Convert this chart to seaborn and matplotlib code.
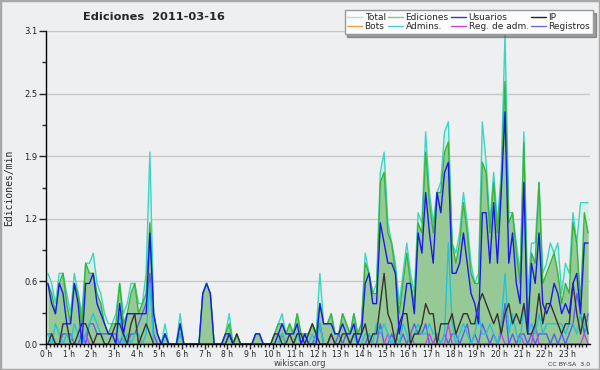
import numpy as np
import pandas as pd
import seaborn as sns
from matplotlib import pyplot as plt
from matplotlib.lines import Line2D
from matplotlib.patches import Rectangle

# ediciones por minuto, tramos de 10 min (6 valores por hora)
ediciones = [0.6, 0.5, 0.3, 0.6, 0.7, 0.4,  0.2, 0.6, 0.5, 0.2, 0.8, 0.7,
             0.7, 0.5, 0.4, 0.2, 0.1, 0.2,  0.2, 0.6, 0.2, 0.3, 0.5, 0.6,
             0.3, 0.4, 0.5, 1.2, 0.3, 0.1,  0.0, 0.1, 0.0, 0.0, 0.0, 0.2,
             0.0, 0.0, 0.0, 0.0, 0.0, 0.5,  0.6, 0.5, 0.0, 0.0, 0.0, 0.1,
             0.2, 0.0, 0.1, 0.0, 0.0, 0.0,  0.0, 0.1, 0.1, 0.0, 0.0, 0.0,
             0.1, 0.2, 0.2, 0.1, 0.2, 0.1,  0.3, 0.1, 0.1, 0.1, 0.2, 0.1,
             0.4, 0.2, 0.2, 0.3, 0.1, 0.1,  0.3, 0.2, 0.1, 0.3, 0.1, 0.2,
             0.8, 0.7, 0.5, 0.5, 1.6, 1.7,  1.1, 1.0, 0.7, 0.3, 0.6, 0.9,
             0.6, 0.4, 1.2, 1.1, 1.9, 1.4,  1.1, 1.5, 1.5, 1.9, 2.0, 1.0,
             0.8, 1.0, 1.4, 1.1, 0.7, 0.6,  0.6, 1.8, 1.7, 1.1, 1.6, 1.1,
             1.6, 2.6, 1.2, 1.3, 0.9, 0.6,  2.0, 0.2, 0.9, 0.8, 1.6, 0.6,
             0.7, 0.8, 0.9, 0.7, 0.4, 0.6,  0.5, 1.2, 1.0, 0.4, 1.3, 1.1]
total = [0.7, 0.6, 0.4, 0.7, 0.7, 0.5,  0.3, 0.7, 0.5, 0.3, 0.8, 0.8,
         0.9, 0.6, 0.5, 0.3, 0.2, 0.2,  0.3, 0.6, 0.3, 0.4, 0.6, 0.6,
         0.4, 0.4, 0.7, 1.9, 0.3, 0.1,  0.0, 0.2, 0.0, 0.0, 0.0, 0.3,
         0.0, 0.0, 0.0, 0.0, 0.0, 0.5,  0.6, 0.5, 0.0, 0.0, 0.0, 0.1,
         0.3, 0.0, 0.1, 0.0, 0.0, 0.0,  0.0, 0.1, 0.1, 0.0, 0.0, 0.0,
         0.1, 0.2, 0.3, 0.1, 0.2, 0.1,  0.3, 0.1, 0.1, 0.1, 0.2, 0.1,
         0.7, 0.2, 0.2, 0.3, 0.1, 0.1,  0.3, 0.2, 0.1, 0.3, 0.1, 0.2,
         0.9, 0.7, 0.5, 0.6, 1.7, 1.9,  1.2, 1.0, 0.8, 0.4, 0.7, 1.0,
         0.7, 0.5, 1.3, 1.2, 2.1, 1.5,  1.2, 1.5, 1.6, 2.1, 2.2, 1.0,
         0.9, 1.1, 1.5, 1.2, 0.8, 0.6,  0.7, 2.2, 1.8, 1.2, 1.7, 1.2,
         1.7, 3.07, 1.3, 1.3, 1.0, 0.7, 2.1, 0.5, 1.0, 1.0, 1.6, 0.7,
         0.8, 1.0, 0.9, 1.0, 0.5, 0.8,  0.7, 1.3, 1.0, 1.4, 1.4, 1.4]
usuarios = [0.6, 0.4, 0.3, 0.6, 0.5, 0.2,  0.2, 0.6, 0.4, 0.0, 0.6, 0.6,
            0.7, 0.4, 0.3, 0.2, 0.1, 0.1,  0.0, 0.4, 0.1, 0.3, 0.3, 0.3,
            0.3, 0.3, 0.3, 1.1, 0.3, 0.1,  0.0, 0.1, 0.0, 0.0, 0.0, 0.2,
            0.0, 0.0, 0.0, 0.0, 0.0, 0.5,  0.6, 0.5, 0.0, 0.0, 0.0, 0.1,
            0.1, 0.0, 0.0, 0.0, 0.0, 0.0,  0.0, 0.1, 0.1, 0.0, 0.0, 0.0,
            0.0, 0.1, 0.2, 0.1, 0.1, 0.1,  0.2, 0.0, 0.1, 0.0, 0.0, 0.0,
            0.4, 0.2, 0.2, 0.2, 0.1, 0.1,  0.2, 0.1, 0.1, 0.2, 0.0, 0.1,
            0.6, 0.7, 0.4, 0.4, 1.2, 1.0,  0.8, 0.8, 0.7, 0.1, 0.3, 0.6,
            0.6, 0.3, 1.1, 0.9, 1.5, 1.1,  0.8, 1.5, 1.3, 1.7, 1.8, 0.7,
            0.7, 0.8, 1.1, 0.8, 0.5, 0.4,  0.2, 1.3, 1.3, 0.8, 1.4, 0.8,
            1.5, 2.3, 0.8, 1.1, 0.6, 0.4,  1.6, 0.1, 0.8, 0.6, 1.1, 0.4,
            0.3, 0.4, 0.6, 0.5, 0.3, 0.4,  0.3, 0.6, 0.7, 0.3, 1.0, 1.0]
ip = [0.0, 0.1, 0.0, 0.0, 0.2, 0.2,  0.0, 0.0, 0.1, 0.2, 0.2, 0.1,
      0.0, 0.1, 0.1, 0.0, 0.0, 0.1,  0.2, 0.2, 0.1, 0.0, 0.2, 0.3,
      0.0, 0.1, 0.2, 0.1, 0.0, 0.0,  0.0, 0.0, 0.0, 0.0, 0.0, 0.0,
      0.0, 0.0, 0.0, 0.0, 0.0, 0.0,  0.0, 0.0, 0.0, 0.0, 0.0, 0.0,
      0.1, 0.0, 0.1, 0.0, 0.0, 0.0,  0.0, 0.0, 0.0, 0.0, 0.0, 0.0,
      0.1, 0.1, 0.0, 0.0, 0.1, 0.0,  0.1, 0.1, 0.0, 0.1, 0.2, 0.1,
      0.0, 0.0, 0.0, 0.1, 0.0, 0.0,  0.1, 0.1, 0.0, 0.1, 0.1, 0.1,
      0.2, 0.0, 0.1, 0.1, 0.4, 0.7,  0.3, 0.2, 0.0, 0.2, 0.3, 0.3,
      0.0, 0.1, 0.1, 0.2, 0.4, 0.3,  0.3, 0.0, 0.2, 0.2, 0.2, 0.3,
      0.1, 0.2, 0.3, 0.3, 0.2, 0.2,  0.4, 0.5, 0.4, 0.3, 0.2, 0.3,
      0.1, 0.3, 0.4, 0.2, 0.3, 0.2,  0.4, 0.1, 0.1, 0.2, 0.5, 0.2,
      0.4, 0.4, 0.3, 0.2, 0.1, 0.2,  0.2, 0.6, 0.3, 0.1, 0.3, 0.1]
bots = [0.0] * 144
admins = [0.1, 0.0, 0.2, 0.1, 0.0, 0.1,  0.0, 0.2, 0.1, 0.0, 0.1, 0.2,
          0.3, 0.2, 0.1, 0.0, 0.0, 0.0,  0.0, 0.3, 0.0, 0.1, 0.0, 0.1,
          0.1, 0.0, 0.1, 0.6, 0.0, 0.0,  0.0, 0.1, 0.0, 0.0, 0.0, 0.1,
          0.0, 0.0, 0.0, 0.0, 0.0, 0.0,  0.0, 0.0, 0.0, 0.0, 0.0, 0.0,
          0.1, 0.0, 0.0, 0.0, 0.0, 0.0,  0.0, 0.0, 0.0, 0.0, 0.0, 0.0,
          0.0, 0.0, 0.1, 0.0, 0.0, 0.0,  0.1, 0.0, 0.0, 0.0, 0.1, 0.0,
          0.2, 0.0, 0.0, 0.0, 0.0, 0.0,  0.0, 0.0, 0.0, 0.1, 0.0, 0.0,
          0.1, 0.1, 0.0, 0.2, 0.1, 0.2,  0.1, 0.0, 0.1, 0.0, 0.2, 0.1,
          0.0, 0.1, 0.2, 0.1, 0.1, 0.2,  0.1, 0.1, 0.0, 0.1, 1.0, 0.2,
          0.0, 0.1, 0.2, 0.1, 0.0, 0.1,  0.3, 0.1, 0.1, 0.2, 0.1, 0.0,
          0.2, 0.7, 0.1, 0.3, 0.1, 0.0,  0.4, 0.1, 0.2, 0.1, 0.3, 0.1,
          0.2, 0.2, 0.2, 0.2, 0.2, 0.1,  0.2, 0.2, 0.1, 0.3, 0.2, 0.1]
reg_adm = [0.0, 0.0, 0.0, 0.0, 0.0, 0.0,  0.0, 0.0, 0.0, 0.0, 0.1, 0.0,
           0.0, 0.0, 0.0, 0.0, 0.0, 0.0,  0.0, 0.0, 0.0, 0.0, 0.0, 0.0,
           0.0, 0.0, 0.0, 0.0, 0.0, 0.0,  0.0, 0.0, 0.0, 0.0, 0.0, 0.0,
           0.0, 0.0, 0.0, 0.0, 0.0, 0.0,  0.0, 0.0, 0.0, 0.0, 0.0, 0.0,
           0.0, 0.0, 0.0, 0.0, 0.0, 0.0,  0.0, 0.0, 0.0, 0.0, 0.0, 0.0,
           0.0, 0.0, 0.0, 0.0, 0.0, 0.0,  0.0, 0.0, 0.0, 0.0, 0.0, 0.0,
           0.2, 0.0, 0.0, 0.0, 0.0, 0.0,  0.0, 0.0, 0.0, 0.0, 0.0, 0.0,
           0.0, 0.0, 0.0, 0.0, 0.0, 0.0,  0.1, 0.0, 0.0, 0.0, 0.0, 0.0,
           0.1, 0.0, 0.0, 0.0, 0.0, 0.1,  0.0, 0.0, 0.0, 0.0, 0.2, 0.0,
           0.0, 0.0, 0.0, 0.0, 0.0, 0.0,  0.0, 0.0, 0.0, 0.0, 0.0, 0.0,
           0.1, 0.0, 0.0, 0.0, 0.0, 0.1,  0.0, 0.0, 0.0, 0.2, 0.0, 0.0,
           0.0, 0.0, 0.0, 0.0, 0.0, 0.0,  0.0, 0.0, 0.0, 0.0, 0.1, 0.0]
registros = [0.1, 0.1, 0.0, 0.0, 0.1, 0.1,  0.1, 0.0, 0.0, 0.1, 0.0, 0.2,
             0.2, 0.1, 0.1, 0.1, 0.1, 0.1,  0.1, 0.0, 0.1, 0.0, 0.1, 0.1,
             0.2, 0.3, 0.4, 0.7, 0.1, 0.0,  0.0, 0.1, 0.0, 0.0, 0.0, 0.1,
             0.0, 0.0, 0.0, 0.0, 0.0, 0.0,  0.0, 0.0, 0.0, 0.0, 0.0, 0.0,
             0.1, 0.0, 0.0, 0.0, 0.0, 0.0,  0.0, 0.0, 0.0, 0.0, 0.0, 0.0,
             0.0, 0.0, 0.1, 0.0, 0.0, 0.0,  0.0, 0.0, 0.1, 0.0, 0.0, 0.1,
             0.2, 0.0, 0.0, 0.1, 0.0, 0.1,  0.0, 0.1, 0.0, 0.1, 0.0, 0.0,
             0.0, 0.1, 0.0, 0.0, 0.2, 0.0,  0.0, 0.1, 0.0, 0.0, 0.1, 0.0,
             0.1, 0.2, 0.1, 0.1, 0.2, 0.0,  0.0, 0.1, 0.0, 0.1, 0.0, 0.1,
             0.1, 0.0, 0.1, 0.2, 0.0, 0.1,  0.0, 0.2, 0.1, 0.0, 0.1, 0.0,
             0.1, 0.4, 0.0, 0.1, 0.0, 0.1,  0.1, 0.0, 0.1, 0.0, 0.1, 0.1,
             0.1, 0.0, 0.1, 0.0, 0.1, 0.0,  0.1, 0.2, 0.5, 0.3, 0.1, 0.3]

hour_labels = ["%d h" % h for h in range(24)]
y_ticks = [0, 0.62, 1.24, 1.86, 2.48, 3.1]
y_labels = ["0.0", "0.6", "1.2", "1.9", "2.5", "3.1"]

bg = "#eeeff0"
sns.set_theme(style="ticks")
plt.rcParams["font.family"] = ["DejaVu Sans"]

df = pd.DataFrame({"hora": (np.arange(144) + 0.5) / 6,
                   "Total": total, "Ediciones": ediciones, "Usuarios": usuarios,
                   "IP": ip, "Bots": bots, "Admins.": admins,
                   "Reg. de adm.": reg_adm, "Registros": registros})

colors = {"Total": "#3ed4c2", "Ediciones": "#38b438", "Usuarios": "#1a1ae8",
          "IP": "#333333", "Bots": "#f0a040", "Admins.": "#22c4d6",
          "Reg. de adm.": "#c844e0", "Registros": "#5c5cf0"}

fig = plt.figure(figsize=(6, 3.7), dpi=100)
fig.patch.set_facecolor(bg)
ax = fig.add_axes([46 / 600, 26 / 370, 544 / 600, 313 / 370])
ax.set_facecolor(bg)

ax.fill_between(df["hora"], df["Total"], color="#d5efe9", lw=0, zorder=1)
ax.fill_between(df["hora"], df["Ediciones"], color="#97c997", lw=0, zorder=1.1)
for name in ["Bots", "Registros", "Reg. de adm.", "Admins.", "Total", "Ediciones", "IP", "Usuarios"]:
    sns.lineplot(x="hora", y=name, data=df, ax=ax, color=colors[name], lw=1)

ax.set_xlim(0, 24)
ax.set_ylim(0, 3.1)
ax.set_xticks(range(24))
ax.set_xticklabels(hour_labels)
ax.set_xticks(np.arange(0, 24, 1 / 6), minor=True)
ax.set_yticks(y_ticks)
ax.set_yticklabels(y_labels)
ax.set_yticks([0.31, 0.93, 1.55, 2.17, 2.79], minor=True)
ax.tick_params(axis="x", which="major", length=3.5, width=1, pad=0.5, labelsize=5.5, colors="#222")
ax.tick_params(axis="x", which="minor", length=2.5, width=1)
ax.tick_params(axis="y", which="major", length=5, width=1, pad=1, labelsize=6, colors="#222")
ax.tick_params(axis="y", which="minor", length=3, width=1)
ax.grid(axis="y", which="major", color="#c8c8c8", lw=1)
ax.set_axisbelow(True)
for s in ["top", "right"]:
    ax.spines[s].set_visible(False)
for s in ["left", "bottom"]:
    ax.spines[s].set_color("black")
    ax.spines[s].set_linewidth(1)
    ax.spines[s].set_zorder(5)
ax.set_xlabel("")
ax.set_ylabel("")

legend_cols = {"Total": "#a9e4dc", "Ediciones": "#7ccc7c", "Usuarios": "#3434d0",
               "IP": "#222222", "Bots": "#f0a040", "Admins.": "#50c8d8",
               "Reg. de adm.": "#c844e0", "Registros": "#6c6ce8"}
order = ["Total", "Bots", "Ediciones", "Admins.", "Usuarios", "Reg. de adm.", "IP", "Registros"]
handles = [Line2D([], [], color=legend_cols[n], lw=1) for n in order]
leg = fig.legend(handles, order, loc="upper right", bbox_to_anchor=(593 / 600, 1 - 10 / 370),
                 ncol=4, fontsize=6.5, frameon=True, fancybox=False, shadow=True,
                 handlelength=1.6, handletextpad=0.3, columnspacing=0.3,
                 labelspacing=0.05, borderpad=0.3, borderaxespad=0)
leg.get_frame().set_facecolor("#fcfcfc")
leg.get_frame().set_edgecolor("#999999")
leg.set_zorder(10)

fig.text(154 / 600, 1 - 17 / 370, "Ediciones  2011-03-16", ha="center", va="center",
         fontsize=8.2, fontweight="bold")
fig.text(9 / 600, 1 - 188 / 370, "Ediciones/min", rotation=90, ha="center", va="center",
         fontsize=7, family="DejaVu Sans Mono")
fig.text(300 / 600, 1 - 364 / 370, "wikiscan.org", ha="center", va="center",
         fontsize=6, color="#444444")
fig.text(590 / 600, 1 - 364 / 370, "CC BY-SA  3.0", ha="right", va="center",
         fontsize=4.5, color="#333333")
fig.patches.append(Rectangle((0, 0), 1, 1, transform=fig.transFigure, fill=False,
                             edgecolor="#a8a8a8", lw=2.5))

fig.savefig("out.png", dpi=100, facecolor=bg)
